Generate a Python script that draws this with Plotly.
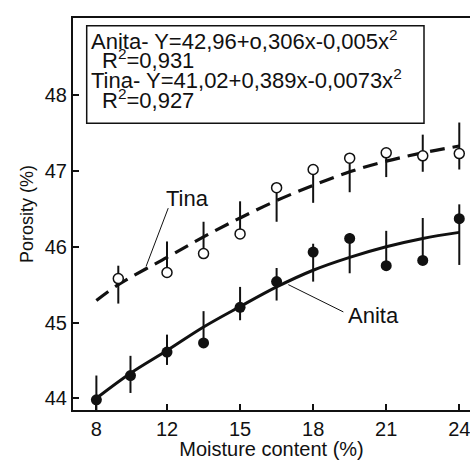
import plotly.graph_objects as go

# ---------------- data ----------------
moisture_anita = [9.1, 10.5, 12, 13.5, 15, 16.5, 18, 19.5, 21, 22.5, 24]
porosity_anita = [43.98, 44.30, 44.61, 44.73, 45.20, 45.54, 45.93, 46.11, 45.75, 45.82, 46.37]
fit_anita = [44.00, 44.33, 44.63, 44.94, 45.21, 45.47, 45.69, 45.86, 46.00, 46.11, 46.19]
bar_low_anita = [43.70, 44.07, 44.44, 44.77, 45.03, 45.29, 45.54, 45.65, 45.80, 45.86, 45.76]
bar_high_anita = [44.30, 44.56, 44.84, 45.15, 45.47, 45.72, 46.04, 46.18, 46.21, 46.38, 46.56]

moisture_tina = [10, 12, 13.5, 15, 16.5, 18, 19.5, 21, 22.5, 24]
porosity_tina = [45.58, 45.66, 45.91, 46.17, 46.78, 47.02, 47.17, 47.24, 47.20, 47.23]
fit_moisture_tina = [9.1, 10, 12, 13.5, 15, 16.5, 18, 19.5, 21, 22.5, 24]
fit_tina = [45.29, 45.50, 45.86, 46.13, 46.38, 46.61, 46.81, 46.99, 47.13, 47.24, 47.33]
bar_low_tina = [45.25, 45.65, 45.93, 46.20, 46.33, 46.58, 46.72, 46.92, 46.99, 47.02]
bar_high_tina = [45.75, 46.07, 46.33, 46.60, 46.80, 47.00, 47.12, 47.20, 47.48, 47.64]

x_tick_vals = [9.1, 12, 15, 18, 21, 24]
x_tick_text = ["8", "12", "15", "18", "21", "24"]
y_tick_vals = [44, 45, 46, 47, 48]

legend_lines = [
    "Anita- Y=42,96+o,306x-0,005x<sup>2</sup>",
    "R<sup>2</sup>=0,931",
    "Tina- Y=41,02+0,389x-0,0073x<sup>2</sup>",
    "R<sup>2</sup>=0,927",
]

FONT = "Liberation Sans, Arial, sans-serif"
W, H = 470, 460
ML, MR, MT, MB = 73, 0, 18, 50
PW, PH = W - ML - MR, H - MT - MB


def px(x):
    return (x - ML) / PW


def py(y):
    return (H - MB - y) / PH


def segs(xs, lo, hi):
    sx, sy = [], []
    for x, a, b in zip(xs, lo, hi):
        sx += [x, x, None]
        sy += [a, b, None]
    return sx, sy


fig = go.Figure()

# fitted curves
fig.add_trace(go.Scatter(x=moisture_anita, y=fit_anita, mode="lines",
                         line=dict(color="#111", width=3, shape="spline"),
                         showlegend=False, hoverinfo="skip"))
fig.add_trace(go.Scatter(x=fit_moisture_tina, y=fit_tina, mode="lines",
                         line=dict(color="#111", width=3.2, shape="spline", dash="15px,8px"),
                         showlegend=False, hoverinfo="skip"))

# error bars
ax_, ay_ = segs(moisture_anita, bar_low_anita, bar_high_anita)
tx_, ty_ = segs(moisture_tina, bar_low_tina, bar_high_tina)
fig.add_trace(go.Scatter(x=ax_, y=ay_, mode="lines", line=dict(color="#111", width=2),
                         showlegend=False, hoverinfo="skip"))
fig.add_trace(go.Scatter(x=tx_, y=ty_, mode="lines", line=dict(color="#111", width=2),
                         showlegend=False, hoverinfo="skip"))

# data points
fig.add_trace(go.Scatter(x=moisture_anita, y=porosity_anita, mode="markers",
                         marker=dict(symbol="circle", size=11, color="#111",
                                     line=dict(width=0)),
                         showlegend=False, cliponaxis=False))
fig.add_trace(go.Scatter(x=moisture_tina, y=porosity_tina, mode="markers",
                         marker=dict(symbol="circle", size=10, color="white",
                                     line=dict(width=1.5, color="#111")),
                         showlegend=False, cliponaxis=False))

# equation box
shapes = [dict(type="rect", xref="paper", yref="paper",
               x0=px(86.7), x1=px(424), y0=py(123.3), y1=py(25.7),
               line=dict(color="#111", width=1.5), fillcolor="white", layer="below")]
# label pointer lines
shapes.append(dict(type="line", xref="x", yref="y", x0=12.05, y0=46.51, x1=11.14, y1=45.74,
                   line=dict(color="#111", width=1)))
shapes.append(dict(type="line", xref="x", yref="y", x0=16.98, y0=45.50, x1=19.24, y1=45.14,
                   line=dict(color="#111", width=1)))

annotations = []
line_pos = [(89, 40), (100, 59), (89, 79), (100, 99)]
for txt, (lx, ly) in zip(legend_lines, line_pos):
    annotations.append(dict(text=txt, xref="paper", yref="paper", x=px(lx), y=py(ly),
                            xanchor="left", yanchor="middle", showarrow=False,
                            font=dict(family=FONT, size=22, color="#111")))
annotations.append(dict(text="Tina", xref="x", yref="y", x=12.85, y=46.64,
                        xanchor="center", yanchor="middle", showarrow=False,
                        font=dict(family=FONT, size=22, color="#111")))
annotations.append(dict(text="Anita", xref="x", yref="y", x=20.46, y=45.09,
                        xanchor="center", yanchor="middle", showarrow=False,
                        font=dict(family=FONT, size=22, color="#111")))

fig.update_layout(
    width=W, height=H,
    margin=dict(l=ML, r=MR, t=MT, b=MB, pad=0),
    paper_bgcolor="white", plot_bgcolor="white",
    shapes=shapes, annotations=annotations,
    font=dict(family=FONT, color="#111"),
)
fig.update_xaxes(range=[8.14, 24.44], tickvals=x_tick_vals, ticktext=x_tick_text,
                 ticks="inside", ticklen=6, tickwidth=1.5, tickcolor="#111",
                 showline=True, linecolor="#111", linewidth=2, mirror=True,
                 showgrid=False, zeroline=False, ticklabeloverflow="allow",
                 tickfont=dict(family=FONT, size=20, color="#111"),
                 title=dict(text="Moisture content (%)", standoff=6,
                            font=dict(family=FONT, size=20, color="#111")))
fig.update_yaxes(range=[43.845, 49.02], tickvals=y_tick_vals,
                 ticks="inside", ticklen=6, tickwidth=1.5, tickcolor="#111",
                 showline=True, linecolor="#111", linewidth=2, mirror=False,
                 showgrid=False, zeroline=False,
                 tickfont=dict(family=FONT, size=20, color="#111"),
                 title=dict(text="Porosity (%)", standoff=6,
                            font=dict(family=FONT, size=18, color="#111")))

fig.write_html("out.html")
